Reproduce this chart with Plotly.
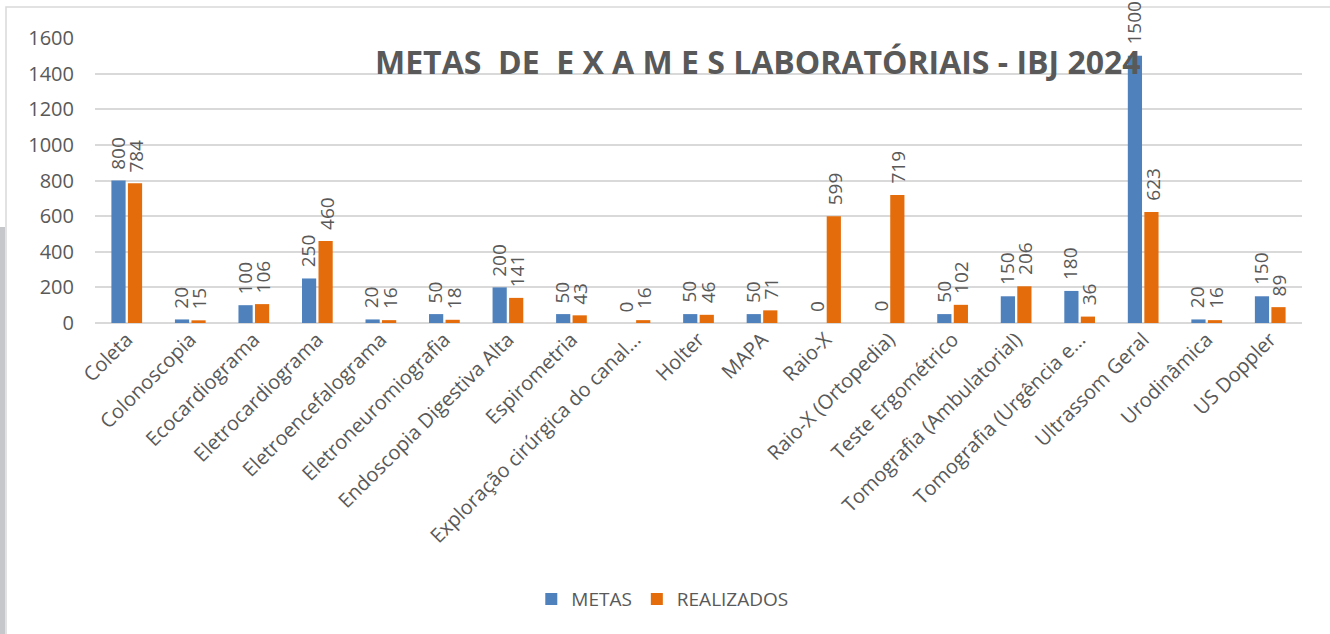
import plotly.graph_objects as go

categories = ["Coleta", "Colonoscopia", "Ecocardiograma", "Eletrocardiograma",
              "Eletroencefalograma", "Eletroneuromiografia", "Endoscopia Digestiva Alta",
              "Espirometria", "Exploração cirúrgica do canal...", "Holter", "MAPA",
              "Raio-X", "Raio-X (Ortopedia)", "Teste Ergométrico",
              "Tomografia (Ambulatorial)", "Tomografia (Urgência e...",
              "Ultrassom Geral", "Urodinâmica", "US Doppler"]
metas = [800, 20, 100, 250, 20, 50, 200, 50, 0, 50, 50, 0, 0, 50, 150, 180, 1500, 20, 150]
realizados = [784, 15, 106, 460, 16, 18, 141, 43, 16, 46, 71, 599, 719, 102, 206, 36, 623, 16, 89]
y_ticks = [0, 200, 400, 600, 800, 1000, 1200, 1400, 1600]

BLUE = "#4F81BD"
ORANGE = "#E46C0A"
GRAY = "#595959"
FONT = "Open Sans"

fig = go.Figure()
series = [("METAS", metas, BLUE, -9), ("REALIZADOS", realizados, ORANGE, 9)]
for name, vals, col, shift in series:
    fig.add_trace(go.Bar(
        x=categories, y=vals, name=name, marker_color=col, marker_line_width=0,
    ))
    for c, v in zip(categories, vals):
        fig.add_annotation(
            x=c, y=v, xref="x", yref="y", text=str(v), showarrow=False,
            textangle=-90, xanchor="center", yanchor="bottom",
            xshift=shift, yshift=9,
            font=dict(family=FONT, size=19, color=GRAY),
        )

fig.update_layout(
    width=1330, height=634,
    paper_bgcolor="white", plot_bgcolor="white",
    margin=dict(l=95, r=28, t=38, b=311),
    barmode="group", bargap=0.48, bargroupgap=0.14,
    showlegend=True,
    legend=dict(orientation="h", x=0.47, xanchor="center", y=-0.969, yanchor="middle",
                font=dict(family=FONT, size=19, color=GRAY), itemwidth=30,
                traceorder="normal"),
    xaxis=dict(tickangle=-45, tickfont=dict(family=FONT, size=20, color=GRAY),
               showgrid=False, showline=False, ticks="", automargin=False),
    yaxis=dict(range=[0, 1600], tickvals=y_ticks, tickfont=dict(family=FONT, size=20, color=GRAY),
               showgrid=True, gridcolor="#D9D9D9", gridwidth=1.5, zeroline=True,
               zerolinecolor="#D9D9D9", zerolinewidth=1.5, showline=False, ticks="",
               automargin=False, ticklabelstandoff=20),
    font=dict(family=FONT, color=GRAY),
)

fig.add_annotation(
    text="<b>METAS  DE  E X A M E S LABORATÓRIAIS - IBJ 2024</b>",
    xref="paper", yref="paper", x=(758 - 95) / 1207, y=1 - (61 - 38) / 285,
    xanchor="center", yanchor="middle", showarrow=False,
    font=dict(family=FONT, size=32, color=GRAY),
)

# chart border and left edge gray strip
fig.add_shape(type="rect", xref="paper", yref="paper",
              x0=-89 / 1207, x1=1.3, y0=-2, y1=1 + 31 / 285,
              line=dict(color="#D9D9D9", width=1.5), fillcolor="rgba(0,0,0,0)", layer="below")
fig.add_shape(type="rect", xref="paper", yref="paper",
              x0=-95 / 1207, x1=-90 / 1207, y0=-2, y1=1 - (227 - 38) / 285,
              line=dict(width=0), fillcolor="#C6C7CB", layer="below")

fig.write_html("out.html", config={"displayModeBar": False},
               post_script="document.body.style.margin='0';")
